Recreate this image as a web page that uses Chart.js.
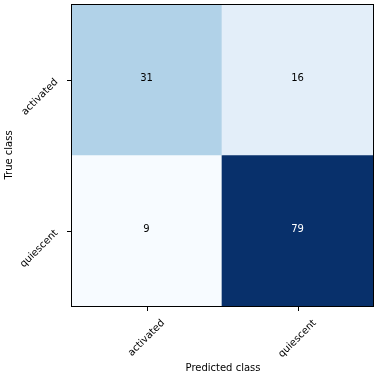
<!DOCTYPE html>
<html><head><meta charset="utf-8">
<script src="https://cdn.jsdelivr.net/npm/chart.js@4"></script>
<style>html,body{margin:0;padding:0;background:#fff}canvas{display:block}</style>
</head><body>
<canvas id="c" width="379" height="382"></canvas>
<script>
const trueLabels = ['activated', 'quiescent'];
const predLabels = ['activated', 'quiescent'];
const rowActivated = [31, 16];
const rowQuiescent = [9, 79];
const matrix = [rowActivated, rowQuiescent];
const xTitle = 'Predicted class';
const yTitle = 'True class';

const blues = [[247,251,255],[222,235,247],[198,219,239],[158,202,225],[107,174,214],[66,146,198],[33,113,181],[8,81,156],[8,48,107]];
const all = matrix.flat();
const vmin = Math.min(...all), vmax = Math.max(...all);
function cmap(v){
  let t = (v - vmin)/(vmax - vmin); t = Math.max(0, Math.min(1, t));
  const p = t*(blues.length-1); const i = Math.min(Math.floor(p), blues.length-2); const f = p - i;
  const c = blues[i].map((a,k)=>Math.round(a + (blues[i+1][k]-a)*f));
  return `rgb(${c[0]},${c[1]},${c[2]})`;
}
const FONT = '10px "DejaVu Sans"';

const datasets = matrix.map((row, i) => ({
  data: row.map(() => [i, i+1]),
  backgroundColor: row.map(v => cmap(v)),
  borderWidth: 0,
  borderSkipped: false,
  grouped: false,
  barPercentage: 1,
  categoryPercentage: 1
}));

const overlay = {
  id: 'overlay',
  afterDraw(chart){
    const ctx = chart.ctx, a = chart.chartArea;
    const xs = chart.scales.x, ys = chart.scales.y;
    ctx.save();
    // cell numbers
    ctx.font = FONT; ctx.textAlign = 'center'; ctx.textBaseline = 'alphabetic';
    const thresh = vmax/2;
    matrix.forEach((row,i)=>row.forEach((v,j)=>{
      ctx.fillStyle = v > thresh ? '#fff' : '#000';
      ctx.fillText(String(v), xs.getPixelForValue(j), ys.getPixelForValue(i+0.5) + 1);
    }));
    // frame
    ctx.strokeStyle = '#000'; ctx.lineWidth = 1;
    ctx.strokeRect(Math.round(a.left)+0.5, Math.round(a.top)+0.5, Math.round(a.right-a.left), Math.round(a.bottom-a.top));
    // ticks
    ctx.beginPath();
    predLabels.forEach((l,j)=>{ const x = Math.round(xs.getPixelForValue(j))+0.5; ctx.moveTo(x, a.bottom+1); ctx.lineTo(x, a.bottom+5); });
    trueLabels.forEach((l,i)=>{ const y = Math.round(ys.getPixelForValue(i+0.5))+0.5; ctx.moveTo(a.left, y); ctx.lineTo(a.left-4, y); });
    ctx.stroke();
    ctx.fillStyle = '#000';
    ctx.textAlign = 'center'; ctx.textBaseline = 'middle';
    const h = 10;
    // x tick labels rotated 45, bbox centered on tick, top below axis
    predLabels.forEach((l,j)=>{
      const w = ctx.measureText(l).width; const b = (w+h)/Math.SQRT2;
      const cx = xs.getPixelForValue(j), cy = a.bottom + 12 + b/2;
      ctx.save(); ctx.translate(cx, cy); ctx.rotate(-Math.PI/4); ctx.fillText(l, 0, 0); ctx.restore();
    });
    // y tick labels rotated 45, bbox right of label near tick, top near tick
    trueLabels.forEach((l,i)=>{
      const w = ctx.measureText(l).width; const b = (w+h)/Math.SQRT2;
      const ty = ys.getPixelForValue(i+0.5);
      const cx = a.left - 11 - b/2, cy = ty - 2.5 + b/2;
      ctx.save(); ctx.translate(cx, cy); ctx.rotate(-Math.PI/4); ctx.fillText(l, 0, 0); ctx.restore();
    });
    // axis titles
    ctx.fillText(xTitle, (a.left+a.right)/2 + 1, 368);
    ctx.save(); ctx.translate(9, (a.top+a.bottom)/2); ctx.rotate(-Math.PI/2); ctx.fillText(yTitle, 0, 0); ctx.restore();
    ctx.restore();
  }
};

new Chart(document.getElementById('c'), {
  type: 'bar',
  data: { labels: predLabels, datasets },
  options: {
    responsive: false, animation: false,
    layout: { padding: { top: 4, right: 6, left: 0, bottom: 0 } },
    plugins: { legend: { display: false }, tooltip: { enabled: false } },
    scales: {
      x: { type: 'category', offset: true, grid: { display: false }, border: { display: false },
           ticks: { display: false }, afterFit(s){ s.height = 76; } },
      y: { type: 'linear', min: 0, max: 2, reverse: true, grid: { display: false }, border: { display: false },
           ticks: { display: false }, afterFit(s){ s.width = 71; } }
    }
  },
  plugins: [overlay]
});
</script>
</body></html>
